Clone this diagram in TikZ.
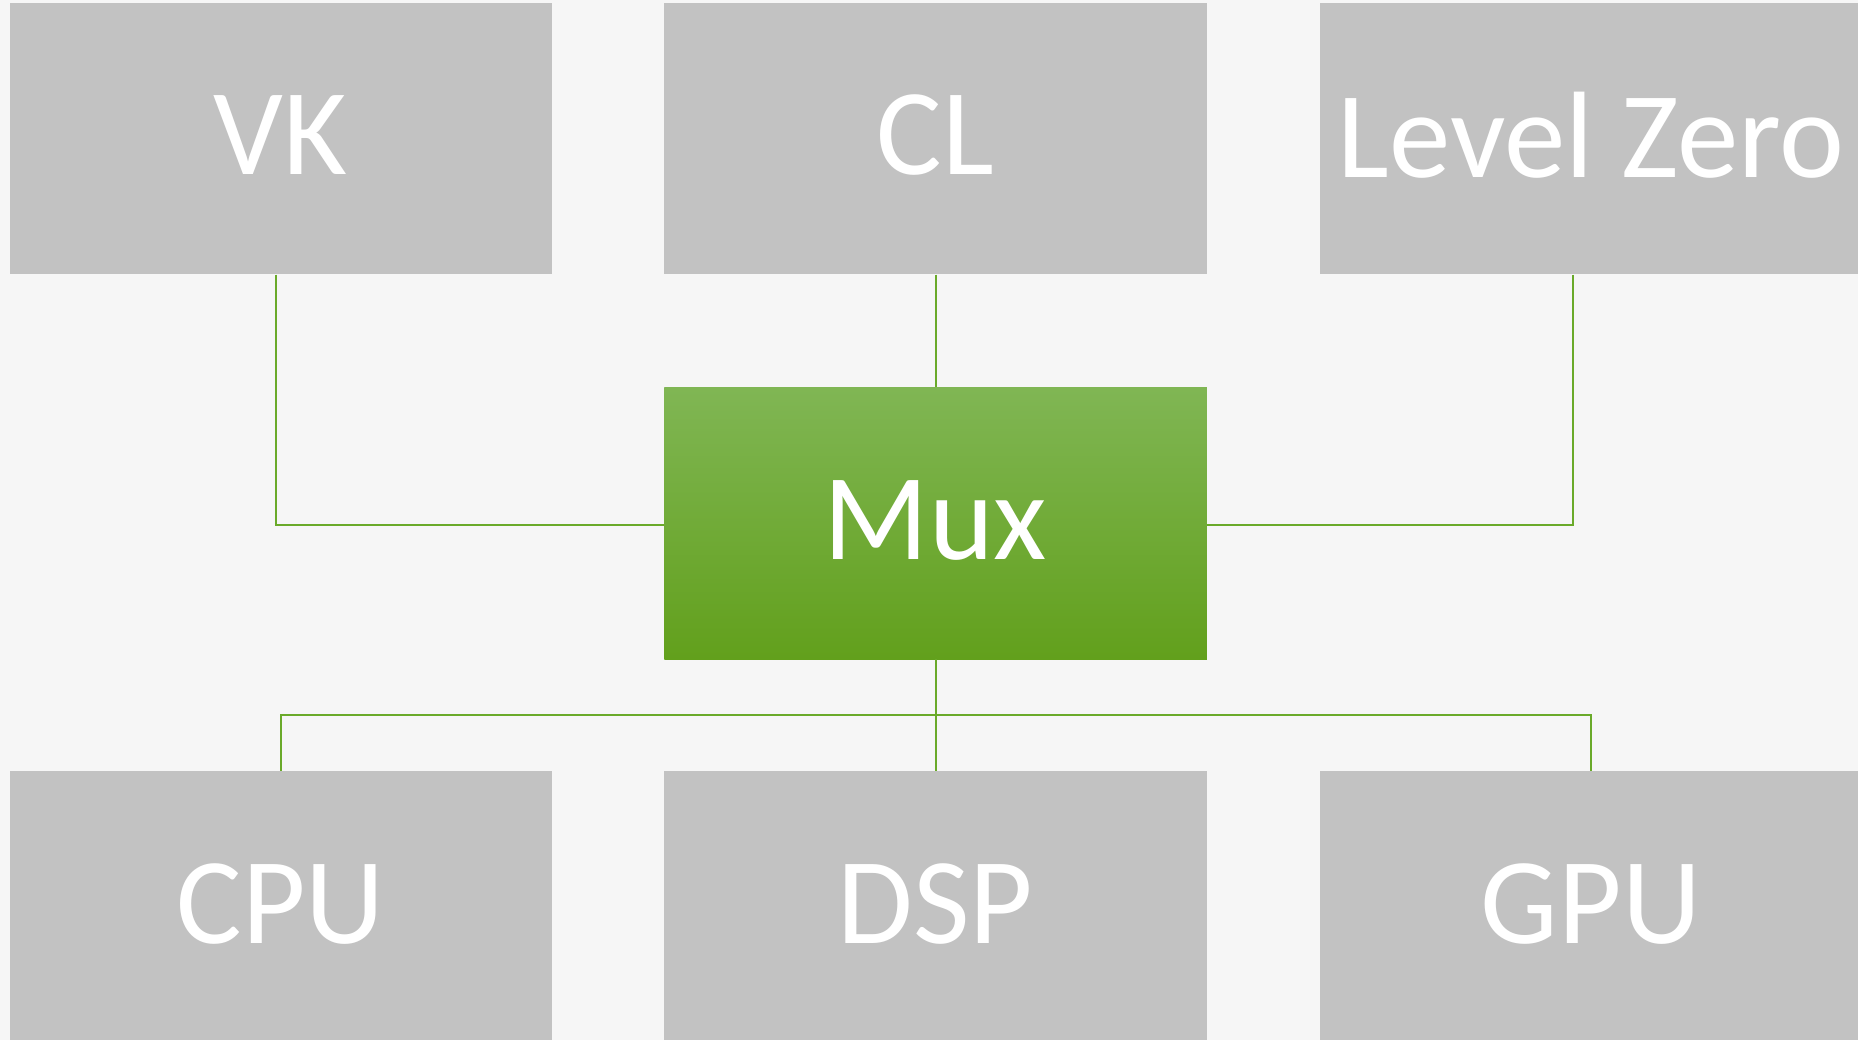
\documentclass[tikz,border=0pt]{standalone}
\usepackage{fontspec}
\setmainfont{Carlito}
\usetikzlibrary{calc}

\definecolor{pagebg}{RGB}{246,246,246}
\definecolor{boxgray}{RGB}{194,194,194}
\definecolor{muxtop}{RGB}{128,182,84}
\definecolor{muxbot}{RGB}{98,160,28}
\definecolor{linkgreen}{RGB}{106,170,42}

\tikzset{
  every picture/.style={line width=0.75pt},
  layerbox/.style={rectangle, fill=boxgray, draw=none, inner sep=0pt,
    minimum width=542.5, minimum height=271.5, text=white, text depth=7,
    font=\fontsize{123}{130}\selectfont},
  muxbox/.style={layerbox, top color=muxtop, bottom color=muxbot},
  link/.style={draw=linkgreen, line width=2}
}

\begin{document}
\begin{tikzpicture}[x=1pt,y=1pt,yscale=-1,xscale=1]
  \useasboundingbox (0,0) rectangle (1858,1040);
  \clip (0,0) rectangle (1858,1040);
  \fill[pagebg] (0,0) rectangle (1858,1040);

  % api layer
  \node[layerbox] (vk) at (280.75,138.5) {VK};
  \node[layerbox] (cl) at (935.5,138.5) {CL};
  \node[layerbox] (lz) at (1591,138.5) {Level Zero};

  % mux
  \node[muxbox] (mux) at (935.5,523.25) {Mux};

  % devices
  \node[layerbox] (cpu) at (280.75,907) {CPU};
  \node[layerbox] (dsp) at (935.5,907) {DSP};
  \node[layerbox] (gpu) at (1591,907) {GPU};

  % links
  \draw[link] ([xshift=-4.75]vk.south) |- ([yshift=2]mux.west);
  \draw[link] (cl.south) -- (mux.north);
  \draw[link] ([xshift=-18.5]lz.south) |- ([yshift=2]mux.east);
  \draw[link] (mux.south) -- (dsp.north);
  \draw[link] (cpu.north) -- ++(0,-55.5) -| (gpu.north);
\end{tikzpicture}
\end{document}
